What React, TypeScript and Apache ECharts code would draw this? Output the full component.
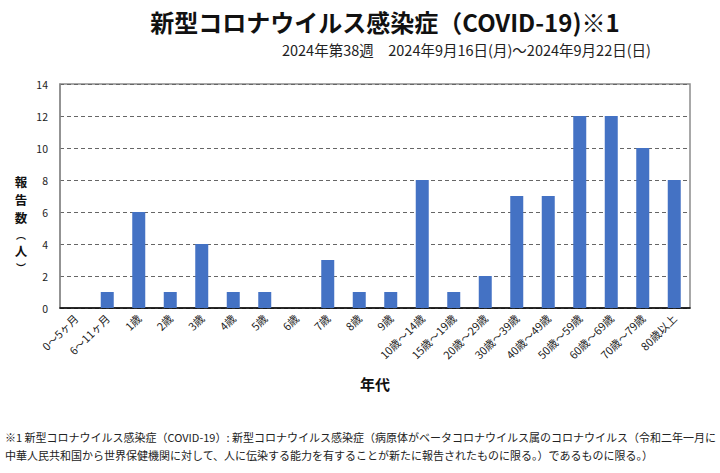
import React, { useEffect, useRef } from "react";
import * as echarts from "echarts";

const categories = [
  "0～5ヶ月", "6～11ヶ月", "1歳", "2歳", "3歳", "4歳", "5歳", "6歳", "7歳", "8歳", "9歳",
  "10歳～14歳", "15歳～19歳", "20歳～29歳", "30歳～39歳", "40歳～49歳", "50歳～59歳",
  "60歳～69歳", "70歳～79歳", "80歳以上",
];
const reports = [0, 1, 6, 1, 4, 1, 1, 0, 3, 1, 1, 8, 1, 2, 7, 7, 12, 12, 10, 8];

const titleText = "新型コロナウイルス感染症（COVID-19)※1";
const subText = "2024年第38週　2024年9月16日(月)～2024年9月22日(日)";
const yNameChars = ["報", "告", "数", "︵", "人", "︶"];
const footnoteLines = [
  "※1 新型コロナウイルス感染症（COVID-19）: 新型コロナウイルス感染症（病原体がベータコロナウイルス属のコロナウイルス（令和二年一月に",
  "中華人民共和国から世界保健機関に対して、人に伝染する能力を有することが新たに報告されたものに限る。）であるものに限る。）",
];
const FONT = "'Noto Sans CJK JP', 'Noto Sans', sans-serif";

function yNameGraphics() {
  const out: any[] = [];
  let y = 175;
  yNameChars.forEach((ch) => {
    const isParen = ch === "︵" || ch === "︶";
    const size = isParen ? 10 : 12.5;
    out.push({
      type: "text",
      x: 21,
      y,
      style: {
        text: ch,
        font: `bold ${size}px ${FONT}`,
        fill: "#111",
        textAlign: "center",
        textVerticalAlign: "top",
      },
    });
    y += size * 1.46;
  });
  return out;
}

export default function App() {
  const ref = useRef<HTMLDivElement>(null);
  useEffect(() => {
    if (!ref.current) return;
    const chart = echarts.init(ref.current, null, { renderer: "svg" });
    chart.setOption({
      animation: false,
      backgroundColor: "#ffffff",
      textStyle: { fontFamily: FONT },
      title: [
        {
          text: titleText,
          left: 380,
          top: 4,
          textAlign: "center",
          textStyle: { fontSize: 24, fontWeight: "bold", color: "#111", fontFamily: FONT },
        },
        {
          text: subText,
          right: 64,
          top: 37,
          textStyle: { fontSize: 14.5, fontWeight: "normal", color: "#222", fontFamily: FONT },
        },
      ],
      grid: {
        left: 60,
        right: 30,
        top: 84,
        bottom: 165,
        show: true,
        borderColor: "#8c8c8c",
        borderWidth: 1.5,
        backgroundColor: "transparent",
      },
      xAxis: {
        type: "category",
        data: categories,
        name: "年代",
        nameLocation: "middle",
        nameGap: 68,
        nameTextStyle: { fontSize: 15, fontWeight: "bold", color: "#111", fontFamily: FONT },
        axisLine: { lineStyle: { color: "#000", width: 1.5 } },
        axisTick: { show: false },
        axisLabel: {
          interval: 0,
          rotate: 45,
          fontSize: 11,
          color: "#222",
          margin: 8,
          fontFamily: FONT,
        },
      },
      yAxis: {
        type: "value",
        min: 0,
        max: 14,
        interval: 2,
        axisLine: { show: true, lineStyle: { color: "#8c8c8c", width: 1.5 } },
        axisTick: { show: false },
        axisLabel: { fontSize: 10.5, color: "#222", margin: 12, fontFamily: FONT },
        splitLine: { lineStyle: { color: "#666", type: [4, 3], width: 1 } },
      },
      series: [
        {
          type: "bar",
          data: reports,
          barWidth: 13,
          itemStyle: { color: "#4472C4" },
        },
      ],
      graphic: [
        ...yNameGraphics(),
        {
          type: "text",
          left: 5,
          top: 428,
          style: {
            text: footnoteLines.join("\n"),
            font: `11px ${FONT}`,
            fill: "#222",
            lineHeight: 18,
          },
        },
      ],
    });
    return () => chart.dispose();
  }, []);
  return (
    <div
      ref={ref}
      style={{ position: "fixed", left: 0, top: 0, width: 720, height: 473 }}
    />
  );
}
